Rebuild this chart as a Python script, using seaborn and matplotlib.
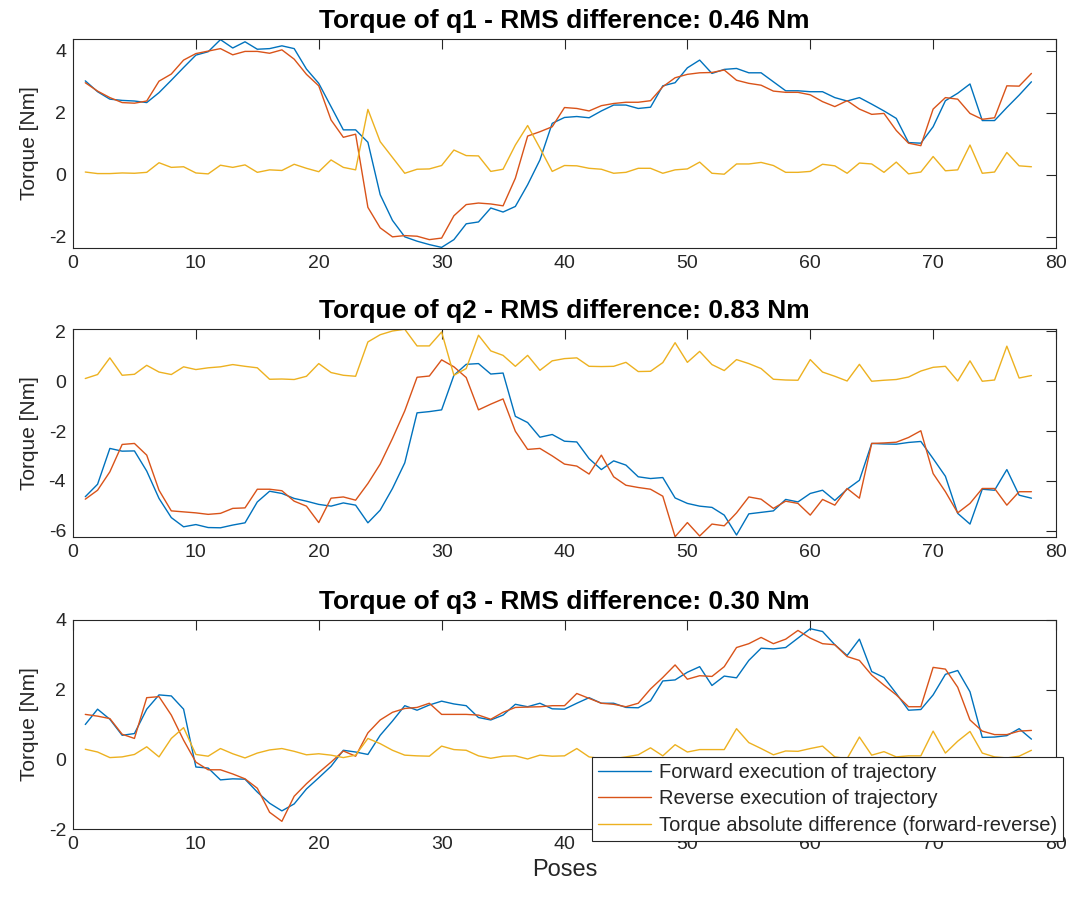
import numpy as np
import pandas as pd
import matplotlib
matplotlib.use("Agg")
import matplotlib.pyplot as plt
import seaborn as sns

poses = np.arange(1, 79)

q1_forward = [3.03, 2.68, 2.44, 2.40, 2.38, 2.33, 2.65, 3.05, 3.46, 3.86, 3.97, 4.36, 4.09, 4.29, 4.05, 4.07, 4.16, 4.07, 3.41, 2.95,
              2.20, 1.45, 1.45, 1.05, -0.64, -1.47, -2.00, -2.14, -2.25, -2.34, -2.09, -1.58, -1.52, -1.07, -1.20, -1.02, -0.32, 0.48, 1.66, 1.85, 1.88,
              1.84, 2.06, 2.25, 2.25, 2.14, 2.18, 2.87, 2.97, 3.45, 3.70, 3.27, 3.40, 3.43, 3.29, 3.29, 3.00, 2.71, 2.71, 2.68,
              2.68, 2.49, 2.38, 2.49, 2.28, 2.06, 1.82, 1.04, 1.02, 1.55, 2.39, 2.63, 2.93, 1.75, 1.75, 2.17, 2.57, 3.00]
q1_reverse = [2.97, 2.70, 2.49, 2.33, 2.31, 2.38, 3.02, 3.25, 3.70, 3.91, 3.99, 4.07, 3.87, 3.98, 3.98, 3.92, 4.03, 3.73, 3.24, 2.87,
              1.77, 1.21, 1.31, -1.05, -1.71, -2.00, -1.96, -1.98, -2.09, -2.04, -1.32, -0.96, -0.91, -0.94, -1.00, -0.11, 1.25, 1.39, 1.55, 2.17, 2.14,
              2.06, 2.23, 2.30, 2.34, 2.34, 2.39, 2.84, 3.13, 3.24, 3.29, 3.30, 3.38, 3.05, 2.95, 2.89, 2.70, 2.66, 2.66, 2.58,
              2.36, 2.20, 2.39, 2.12, 1.95, 1.98, 1.43, 1.02, 0.94, 2.12, 2.49, 2.44, 1.98, 1.79, 1.84, 2.87, 2.86, 3.27]
q1_absdiff = [0.09, 0.04, 0.04, 0.06, 0.05, 0.08, 0.39, 0.24, 0.26, 0.06, 0.03, 0.31, 0.24, 0.32, 0.08, 0.16, 0.14, 0.34, 0.21, 0.10,
              0.48, 0.24, 0.16, 2.11, 1.07, 0.56, 0.05, 0.18, 0.19, 0.30, 0.80, 0.62, 0.61, 0.11, 0.18, 0.96, 1.59, 0.86, 0.11, 0.30, 0.29,
              0.21, 0.18, 0.05, 0.08, 0.21, 0.21, 0.05, 0.16, 0.19, 0.41, 0.05, 0.02, 0.35, 0.35, 0.40, 0.30, 0.08, 0.08, 0.11,
              0.34, 0.29, 0.05, 0.38, 0.35, 0.08, 0.41, 0.03, 0.09, 0.59, 0.13, 0.16, 0.96, 0.05, 0.09, 0.72, 0.29, 0.26]

q2_forward = [-4.64, -4.14, -2.70, -2.81, -2.80, -3.61, -4.71, -5.48, -5.85, -5.76, -5.88, -5.89, -5.78, -5.69, -4.85, -4.42, -4.51, -4.71, -4.82, -4.95, -5.02,
              -4.89, -4.98, -5.69, -5.18, -4.31, -3.28, -1.27, -1.22, -1.15, 0.24, 0.68, 0.71, 0.29, 0.33, -1.41, -1.66, -2.25, -2.14, -2.41, -2.44,
              -3.11, -3.55, -3.20, -3.37, -3.84, -3.91, -3.87, -4.69, -4.91, -5.02, -5.07, -5.38, -6.18, -5.33, -5.27, -5.21, -4.75, -4.85, -4.51,
              -4.38, -4.79, -4.34, -3.98, -2.50, -2.52, -2.53, -2.46, -2.42, -3.11, -3.82, -5.31, -5.74, -4.34, -4.38, -3.55, -4.58, -4.70]
q2_reverse = [-4.74, -4.38, -3.64, -2.54, -2.50, -2.97, -4.38, -5.21, -5.25, -5.29, -5.35, -5.31, -5.11, -5.09, -4.34, -4.34, -4.40, -4.82, -5.02, -5.68, -4.70,
              -4.65, -4.78, -4.11, -3.33, -2.30, -1.19, 0.16, 0.21, 0.86, 0.58, 0.15, -1.15, -0.92, -0.71, -2.01, -2.74, -2.70, -3.00, -3.33, -3.41,
              -3.73, -2.97, -3.84, -4.18, -4.27, -4.34, -4.62, -6.25, -5.68, -6.22, -5.74, -5.81, -5.29, -4.65, -4.74, -5.11, -4.82, -4.91, -5.38,
              -4.75, -4.98, -4.31, -4.70, -2.50, -2.48, -2.45, -2.26, -1.99, -3.71, -4.44, -5.29, -4.91, -4.31, -4.31, -4.98, -4.44, -4.44]
q2_absdiff = [0.11, 0.27, 0.94, 0.24, 0.28, 0.64, 0.37, 0.27, 0.58, 0.47, 0.54, 0.58, 0.67, 0.60, 0.54, 0.08, 0.09, 0.07, 0.20, 0.71, 0.35,
              0.24, 0.20, 1.58, 1.87, 2.02, 2.09, 1.42, 1.42, 1.98, 0.24, 0.51, 1.85, 1.22, 1.04, 0.60, 1.04, 0.44, 0.82, 0.91, 0.94,
              0.60, 0.59, 0.60, 0.76, 0.39, 0.40, 0.75, 1.55, 0.76, 1.20, 0.67, 0.43, 0.87, 0.71, 0.51, 0.08, 0.05, 0.04, 0.87,
              0.37, 0.20, 0.01, 0.68, 0.00, 0.04, 0.07, 0.17, 0.41, 0.56, 0.60, 0.01, 0.82, 0.00, 0.05, 1.41, 0.13, 0.23]

q3_forward = [1.00, 1.44, 1.15, 0.69, 0.74, 1.44, 1.85, 1.82, 1.44, -0.22, -0.25, -0.59, -0.56, -0.57, -0.94, -1.26, -1.48, -1.28, -0.85, -0.53, -0.20,
              0.26, 0.21, 0.14, 0.69, 1.10, 1.54, 1.41, 1.56, 1.67, 1.59, 1.54, 1.20, 1.13, 1.27, 1.58, 1.51, 1.61, 1.45, 1.44, 1.61,
              1.77, 1.61, 1.61, 1.49, 1.48, 1.68, 2.25, 2.28, 2.50, 2.66, 2.12, 2.39, 2.34, 2.84, 3.19, 3.17, 3.21, 3.48, 3.75,
              3.67, 3.29, 2.98, 3.45, 2.52, 2.35, 1.89, 1.41, 1.43, 1.85, 2.44, 2.55, 1.94, 0.63, 0.64, 0.68, 0.88, 0.58]
q3_reverse = [1.29, 1.24, 1.17, 0.72, 0.60, 1.77, 1.80, 1.27, 0.55, -0.08, -0.30, -0.30, -0.42, -0.56, -0.83, -1.52, -1.78, -1.06, -0.70, -0.38, -0.08,
              0.24, 0.09, 0.76, 1.13, 1.35, 1.46, 1.49, 1.61, 1.29, 1.29, 1.29, 1.27, 1.15, 1.35, 1.49, 1.50, 1.51, 1.54, 1.54, 1.89,
              1.75, 1.61, 1.58, 1.51, 1.61, 2.02, 2.35, 2.71, 2.30, 2.40, 2.38, 2.66, 3.21, 3.32, 3.50, 3.32, 3.45, 3.70, 3.48,
              3.32, 3.29, 2.95, 2.84, 2.42, 2.13, 1.85, 1.51, 1.51, 2.64, 2.59, 2.07, 1.13, 0.81, 0.71, 0.71, 0.81, 0.83]
q3_absdiff = [0.29, 0.21, 0.05, 0.07, 0.14, 0.36, 0.07, 0.60, 0.91, 0.14, 0.09, 0.31, 0.16, 0.04, 0.18, 0.27, 0.31, 0.23, 0.13, 0.16, 0.12,
              0.05, 0.12, 0.60, 0.45, 0.26, 0.12, 0.10, 0.09, 0.38, 0.28, 0.26, 0.10, 0.03, 0.09, 0.10, 0.01, 0.12, 0.09, 0.10, 0.31,
              0.07, 0.02, 0.02, 0.07, 0.13, 0.33, 0.10, 0.42, 0.21, 0.28, 0.28, 0.28, 0.88, 0.48, 0.31, 0.13, 0.24, 0.23, 0.31,
              0.38, 0.07, 0.02, 0.64, 0.12, 0.22, 0.07, 0.10, 0.10, 0.81, 0.18, 0.52, 0.80, 0.18, 0.07, 0.04, 0.09, 0.26]

joint_names = ["q1", "q2", "q3"]
rms_values = [0.46, 0.83, 0.30]
series_labels = ["Forward execution of trajectory",
                 "Reverse execution of trajectory",
                 "Torque absolute difference (forward-reverse)"]
x_ticks = [0, 10, 20, 30, 40, 50, 60, 70, 80]
y_ticks = [[-2, 0, 2, 4], [-6, -4, -2, 0, 2], [-2, 0, 2, 4]]
y_limits = [(-2.36, 4.38), (-6.26, 2.10), (-2.0, 4.0)]

series = [(q1_forward, q1_reverse, q1_absdiff),
          (q2_forward, q2_reverse, q2_absdiff),
          (q3_forward, q3_reverse, q3_absdiff)]

colors = ["#0072BD", "#D95319", "#EDB120"]
axis_gray = "#262626"

sns.set_style("white")
plt.rcParams["font.family"] = ["Liberation Sans", "DejaVu Sans"]
plt.rcParams["axes.unicode_minus"] = False

fig = plt.figure(figsize=(10.72, 9.01), dpi=100)
W, H = 1072, 901
left, right = 73, 1056
boxes = [(39, 248), (329, 537), (620, 829)]

axes = []
for i, (top, bottom) in enumerate(boxes):
    ax = fig.add_axes([left / W, 1 - bottom / H, (right - left) / W, (bottom - top) / H])
    fwd, rev, diff = series[i]
    df = pd.DataFrame({"Pose": poses, "fwd": fwd, "rev": rev, "diff": diff})
    for col, c, lab in zip(["fwd", "rev", "diff"], colors, series_labels):
        sns.lineplot(data=df, x="Pose", y=col, color=c, linewidth=1.0, ax=ax,
                     label=lab, legend=False)
    ax.set_xlim(0, 80)
    ax.set_ylim(*y_limits[i])
    ax.set_xticks(x_ticks)
    ax.set_yticks(y_ticks[i])
    ax.tick_params(direction="in", top=True, right=True, length=7, width=0.8,
                   colors=axis_gray, labelsize=14, labelcolor=axis_gray, pad=5)
    for sp in ax.spines.values():
        sp.set_color(axis_gray)
        sp.set_linewidth(0.8)
    ax.set_ylabel("Torque [Nm]", fontsize=15, color=axis_gray, labelpad=7)
    ax.set_xlabel("")
    ax.set_title(f"Torque of {joint_names[i]} - RMS difference: {rms_values[i]:.2f} Nm",
                 fontsize=19, fontweight="bold", color="black", pad=8)
    axes.append(ax)

axes[-1].set_xlabel("Poses", fontsize=17, color=axis_gray, labelpad=4)

handles, labels = axes[-1].get_legend_handles_labels()
leg = axes[-1].legend(handles, labels, loc="lower right",
                      bbox_to_anchor=(1063 / W, 1 - 841 / H),
                      bbox_transform=fig.transFigure,
                      fontsize=14.5, frameon=True, fancybox=False,
                      edgecolor=axis_gray, framealpha=1.0,
                      handlelength=2.6, handletextpad=0.4,
                      borderpad=0.3, labelspacing=0.38, borderaxespad=0)
leg.get_frame().set_linewidth(0.8)

fig.savefig("out.png", dpi=100, facecolor="white")
